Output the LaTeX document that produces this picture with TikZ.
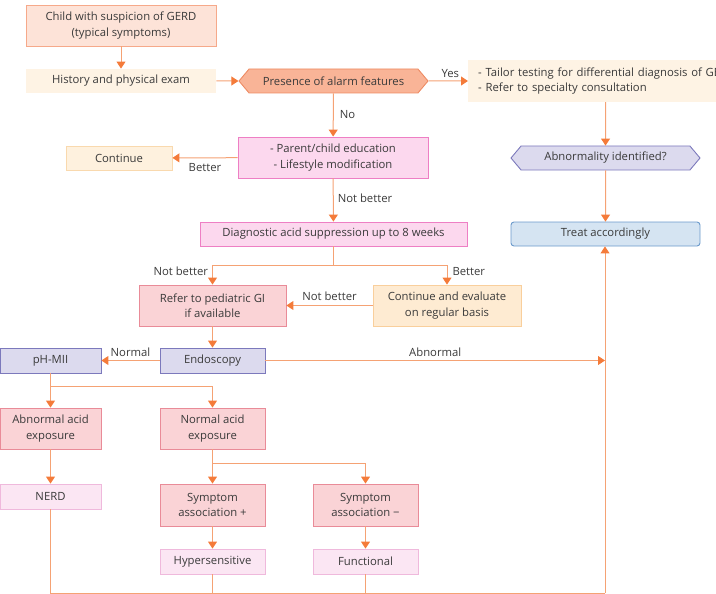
\documentclass[tikz,border=0pt]{standalone}
\usepackage{fontspec}
\setmainfont{Open Sans}
\usetikzlibrary{shapes.symbols,arrows.meta}
\definecolor{txt}{HTML}{3A3A3A}
\definecolor{ln}{HTML}{F5A274}
\definecolor{ah}{HTML}{F47B3A}
\definecolor{FDE3D8}{HTML}{FDE3D8}\definecolor{F6A98A}{HTML}{F6A98A}
\definecolor{FEF3E4}{HTML}{FEF3E4}\definecolor{FEF1DE}{HTML}{FEF1DE}
\definecolor{F9D9AE}{HTML}{F9D9AE}\definecolor{FCD8EE}{HTML}{FCD8EE}
\definecolor{EE7FC4}{HTML}{EE7FC4}\definecolor{FAD3D6}{HTML}{FAD3D6}
\definecolor{E98B98}{HTML}{E98B98}\definecolor{FBE6F3}{HTML}{FBE6F3}
\definecolor{EFB9DC}{HTML}{EFB9DC}\definecolor{DCDAEE}{HTML}{DCDAEE}
\definecolor{7C79BC}{HTML}{7C79BC}\definecolor{F9B497}{HTML}{F9B497}
\definecolor{EE8B63}{HTML}{EE8B63}\definecolor{D5E4F2}{HTML}{D5E4F2}
\definecolor{6B9ACB}{HTML}{6B9ACB}\definecolor{FEEBD2}{HTML}{FEEBD2}
\definecolor{F9CF9C}{HTML}{F9CF9C}
\tikzset{
  x=1pt,y=-1pt,
  every node/.style={font=\fontsize{11.3}{15.5}\selectfont, text=txt, inner sep=0pt, align=center},
  bx/.style={draw, line width=0.9pt, minimum width=#1},
  bx/.default=105,
  salmon/.style={fill=FDE3D8, draw=F6A98A},
  cream/.style={fill=FEF3E4, draw=none},
  creamb/.style={fill=FEF1DE, draw=F9D9AE},
  pinkm/.style={fill=FCD8EE, draw=EE7FC4},
  pinkr/.style={fill=FAD3D6, draw=E98B98},
  pinkl/.style={fill=FBE6F3, draw=EFB9DC},
  lav/.style={fill=DCDAEE, draw=7C79BC},
  hexa/.style={signal, signal to=west and east, signal pointer angle=100, draw, line width=0.9pt, minimum width=189, minimum height=24},
  conn/.style={draw=ln, line width=1pt},
  arr/.style={conn, -{Triangle[width=9pt,length=7pt,color=ah]}},
  lbl/.style={font=\fontsize{11.3}{13}\selectfont},
}
\begin{document}
\begin{tikzpicture}
\useasboundingbox (0,0) rectangle (716,594);
\clip (0,0) rectangle (716,594);
% nodes
\node[bx=190, salmon, minimum height=41] (start) at (121,25.5) {Child with suspicion of GERD\\(typical symptoms)};
\node[bx=190, cream, minimum height=24] (hist) at (121,81) {History and physical exam};
\node[hexa, fill=F9B497, draw=EE8B63] (alarm) at (333.5,81) {Presence of alarm features};
\node[cream, minimum width=290, minimum height=42, anchor=west, align=left, inner xsep=10pt, text width=290] (tailor) at (468,81) {- Tailor testing for differential diagnosis of GERD\\- Refer to specialty consultation};
\node[hexa, lav] (abn) at (605.5,158) {Abnormality identified?};
\node[bx=189, fill=D5E4F2, draw=6B9ACB, rounded corners=3pt, minimum height=24] (treat) at (605.5,234) {Treat accordingly};
\node[bx=190, pinkm, minimum height=41] (edu) at (333,157.5) {- Parent/child education\\- Lifestyle modification};
\node[bx=106, creamb, minimum height=24] (cont) at (119,158) {Continue};
\node[bx=267, pinkm, minimum height=24] (diag) at (333.5,234) {Diagnostic acid suppression up to 8 weeks};
\node[bx=147, pinkr, minimum height=41] (refer) at (212.5,305.5) {Refer to pediatric GI\\if available};
\node[bx=148, fill=FEEBD2, draw=F9CF9C, minimum height=41] (ceval) at (447,305.5) {Continue and evaluate\\on regular basis};
\node[bx=105, lav, minimum height=25] (endo) at (212.5,360.5) {Endoscopy};
\node[bx=101, lav, minimum height=25] (ph) at (50.5,360.5) {pH-MII};
\node[bx=101, pinkr, minimum height=41] (abac) at (50.5,428.5) {Abnormal acid\\exposure};
\node[bx=105, pinkr, minimum height=41] (noac) at (212.5,428.5) {Normal acid\\exposure};
\node[bx=101, pinkl, minimum height=25] (nerd) at (50.5,496.5) {NERD};
\node[bx=105, pinkr, minimum height=42] (symp) at (212.5,505) {Symptom\\association +};
\node[bx=105, pinkr, minimum height=42] (symm) at (365.5,505) {Symptom\\association −};
\node[bx=105, pinkl, minimum height=25] (hyper) at (212.5,561.5) {Hypersensitive};
\node[bx=105, pinkl, minimum height=25] (func) at (365.5,561.5) {Functional};
% coordinates
\coordinate (j1) at (333.5,265);
\coordinate (abnend) at (605,360.5);
\coordinate (j2) at (50.5,386);
\coordinate (j3) at (212.5,463);
\coordinate (b1) at (50.5,593);
\coordinate (b2) at (605,593);
% connectors
\draw[arr] (start) -- (hist);
\draw[arr] (hist) -- (alarm);
\draw[arr] (alarm) -- node[lbl, above=3pt, xshift=2pt] {Yes} (tailor);
\draw[arr] (abn.north |- tailor.south) -- (abn);
\draw[arr] (abn) -- (treat);
\draw[arr] (alarm) -- node[lbl, right=6pt] {No} (edu);
\draw[arr] (edu) -- node[lbl, below=5pt] {Better} (cont);
\draw[arr] (edu) -- node[lbl, right=4pt, pos=0.45] {Not better} (diag);
\draw[conn] (diag) -- (j1);
\draw[arr] (j1) -| node[lbl, pos=0.66, left=4pt] {Not better} (refer);
\draw[arr] (j1) -| node[lbl, pos=0.66, right=5pt] {Better} (ceval);
\draw[arr] (ceval) -- node[lbl, above=4pt, pos=0.5] {Not better} (refer);
\draw[arr] (refer) -- (endo);
\draw[arr] (endo) -- node[lbl, above=3pt] {Normal} (ph);
\draw[arr] (endo) -- node[lbl, above=3pt, pos=0.5] {Abnormal} (abnend);
\draw[conn] (ph) -- (j2);
\draw[arr] (j2) -- (abac);
\draw[arr] (j2) -| (noac);
\draw[arr] (abac) -- (nerd);
\draw[conn] (noac) -- (j3);
\draw[arr] (j3) -- (symp);
\draw[arr] (j3) -| (symm);
\draw[arr] (symp) -- (hyper);
\draw[arr] (symm) -- (func);
\draw[conn] (nerd) -- (b1) -- (b2);
\draw[arr] (b2) -- (treat.south -| b2);
\draw[conn] (hyper) -- (hyper |- b1);
\draw[conn] (func) -- (func |- b1);
\end{tikzpicture}
\end{document}
